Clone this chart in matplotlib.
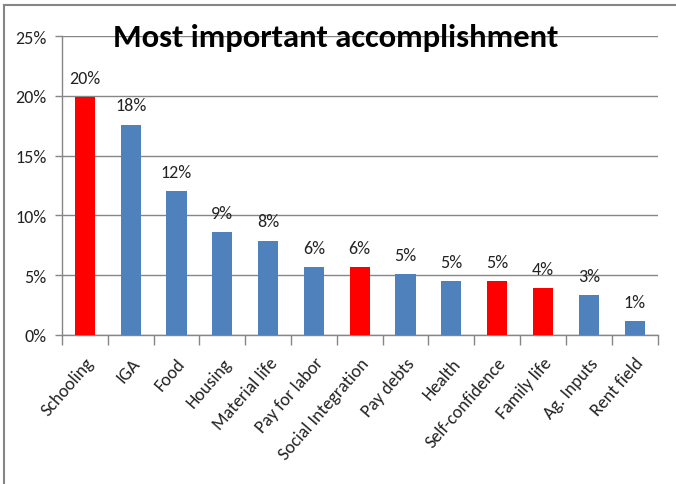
import matplotlib
matplotlib.use("Agg")
import matplotlib.pyplot as plt
from matplotlib.ticker import FuncFormatter, FixedLocator
import matplotlib.lines as mlines

categories = ["Schooling", "IGA", "Food", "Housing", "Material life", "Pay for labor",
              "Social Integration", "Pay debts", "Health", "Self-confidence",
              "Family life", "Ag. Inputs", "Rent field"]
values = [0.199, 0.176, 0.120, 0.086, 0.079, 0.0566, 0.0566, 0.051, 0.0454, 0.0454,
          0.0393, 0.0337, 0.0114]
highlight = [True, False, False, False, False, False, True, False, False, True, True, False, False]
yticks = [0, 0.05, 0.10, 0.15, 0.20, 0.25]

BLUE = "#4F81BD"
RED = "#FF0000"
GRID = "#868686"
FONT = ["Carlito", "DejaVu Sans"]
TXT = "#222222"

plt.rcParams["font.family"] = FONT

fig = plt.figure(figsize=(6.76, 4.85), dpi=100)
W, H = 676, 485
left, right, bottom, top = 62, 657.5, 336, 37
ax = fig.add_axes([left / W, 1 - bottom / H, (right - left) / W, (bottom - top) / H])

x = list(range(len(categories)))
colors = [RED if h else BLUE for h in highlight]
ax.bar(x, values, width=0.44, color=colors, zorder=3)
for xi, v in zip(x, values):
    ax.annotate(f"{v*100:.0f}%", (xi, v), xytext=(0, 8), textcoords="offset points",
                ha="center", va="bottom", fontsize=13, color=TXT)

ax.set_xlim(-0.5, len(categories) - 0.5)
ax.set_ylim(0, 0.25)
ax.set_yticks(yticks)
ax.yaxis.set_major_formatter(FuncFormatter(lambda v, p: f"{v*100:.0f}%"))
ax.grid(axis="y", color=GRID, linewidth=1.0, zorder=0)
ax.set_axisbelow(True)

ax.set_xticks(x)
ax.set_xticklabels(categories, rotation=49, ha="right", rotation_mode="anchor",
                   fontsize=13, color=TXT)
ax.tick_params(axis="x", length=0, pad=14)
ax.xaxis.set_minor_locator(FixedLocator([i - 0.5 for i in range(len(categories) + 1)]))
ax.tick_params(axis="x", which="minor", length=7, color=GRID, width=1)
ax.tick_params(axis="y", length=5, color=GRID, width=1, labelsize=13, labelcolor=TXT, pad=6)

for s in ["top", "right"]:
    ax.spines[s].set_visible(False)
for s in ["left", "bottom"]:
    ax.spines[s].set_color(GRID)
    ax.spines[s].set_linewidth(1)

fig.text(335.5 / W, 1 - 47 / H, "Most important accomplishment", ha="center", va="baseline",
         fontsize=23.5, fontweight="bold", color="black")

# outer chart frame (partially cropped)
fig.add_artist(mlines.Line2D([3.5 / W, 3.5 / W], [0, 1 - 6 / H], color=GRID, linewidth=1.5,
                             transform=fig.transFigure))
fig.add_artist(mlines.Line2D([3.5 / W, 1], [1 - 6 / H, 1 - 6 / H], color=GRID, linewidth=1.5,
                             transform=fig.transFigure))

fig.savefig("out.png", dpi=100)
